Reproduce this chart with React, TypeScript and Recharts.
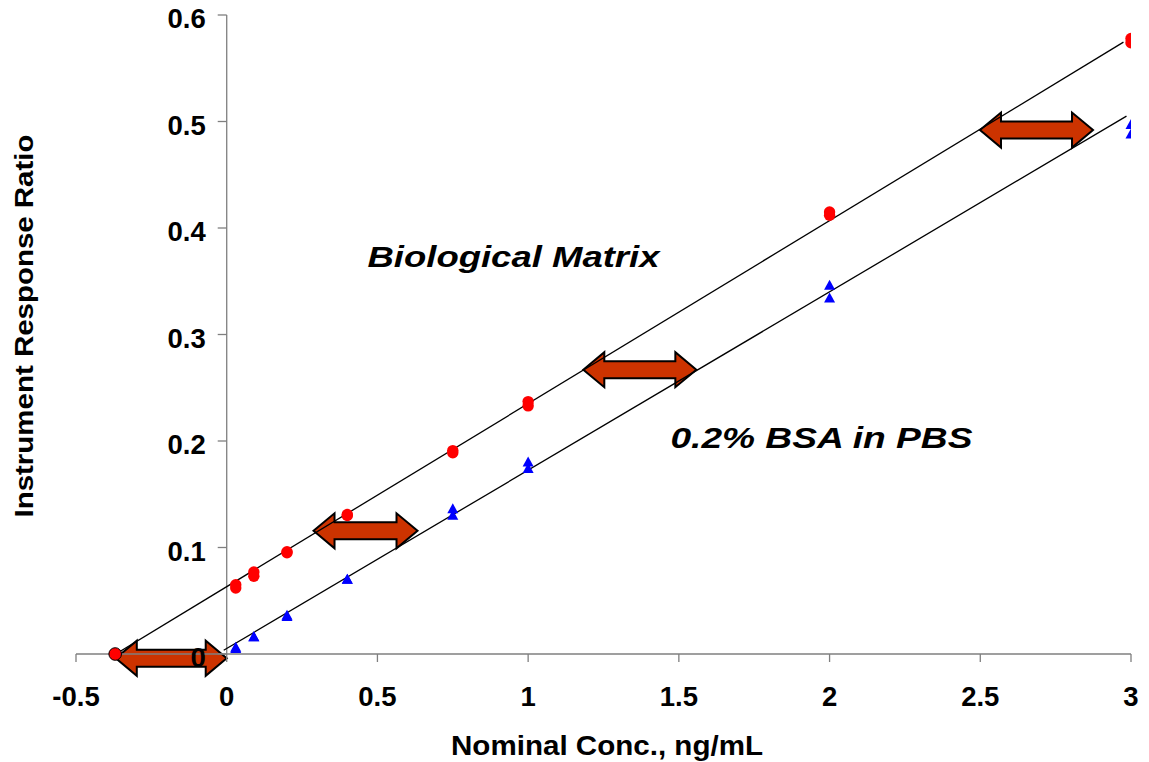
import React from 'react';
import { ScatterChart, Scatter, XAxis, YAxis, ReferenceLine, ReferenceDot } from 'recharts';

const FONT = '"Liberation Sans", Arial, Helvetica, sans-serif';

// Nominal concentrations (ng/mL)
const conc = [0.03, 0.09, 0.2, 0.4, 0.75, 1, 2, 3];
// Biological matrix replicates (red circles)
const bioRep1 = [0.062, 0.077, 0.095, 0.131, 0.191, 0.237, 0.415, 0.578];
const bioRep2 = [0.065, 0.073, 0.096, 0.130, 0.189, 0.233, 0.412, 0.574];
// 0.2% BSA in PBS replicates (blue triangles)
const bsaRep1 = [0.006, 0.016, 0.036, 0.070, 0.136, 0.180, 0.346, 0.497];
const bsaRep2 = [0.005, 0.016, 0.035, 0.070, 0.130, 0.174, 0.334, 0.488];
// extrapolated x-intercept of biological matrix
const bioIntercept = { x: -0.37, y: 0 };
// fitted regression lines (endpoints)
const bioFit = [{ x: -0.368, y: 0 }, { x: 2.975, y: 0.5745 }];
const bsaFit = [{ x: -0.01, y: 0.0035 }, { x: 2.985, y: 0.505 }];
// axis ticks
const xTicks = [-0.5, 0, 0.5, 1, 1.5, 2, 2.5, 3];
const yTicks = [0, 0.1, 0.2, 0.3, 0.4, 0.5, 0.6];
const yTickLabels = ['0', '0.1', '0.2', '0.3', '0.4', '0.5', '0.6'];
// shift arrows: [xStart, xEnd, y]
const arrows = [
  [-0.368, 0.0, -0.004],
  [0.288, 0.633, 0.1157],
  [1.183, 1.558, 0.267],
  [2.499, 2.874, 0.492],
];

const bioPoints = [
  ...conc.map((x, i) => ({ x, y: bioRep1[i] })),
  ...conc.map((x, i) => ({ x, y: bioRep2[i] })),
];
const bsaPoints = [
  ...conc.map((x, i) => ({ x, y: bsaRep1[i] })),
  ...conc.map((x, i) => ({ x, y: bsaRep2[i] })),
];

const RedDot = (p: any) => <circle cx={p.cx} cy={p.cy} r={5.7} fill="#ff0000" />;
const RedDotOutlined = (p: any) => (
  <circle cx={p.cx} cy={p.cy} r={6.3} fill="#ff0000" stroke="#000" strokeWidth={1} />
);
const BlueTri = (p: any) => (
  <polygon
    points={`${p.cx},${p.cy - 5.8} ${p.cx + 5.5},${p.cy + 4.2} ${p.cx - 5.5},${p.cy + 4.2}`}
    fill="#0000ff"
  />
);
const NoShape = () => <g />;

const DoubleArrow = (p: any) => {
  const y = (p.y1 + p.y2) / 2;
  const L = Math.min(p.x1, p.x2);
  const R = Math.max(p.x1, p.x2);
  const hl = 21, hh = 17.5, sh = 8.5;
  const pts = [
    [L, y], [L + hl, y - hh], [L + hl, y - sh], [R - hl, y - sh], [R - hl, y - hh],
    [R, y], [R - hl, y + hh], [R - hl, y + sh], [L + hl, y + sh], [L + hl, y + hh],
  ].map((q) => q.join(',')).join(' ');
  return <polygon points={pts} fill="#cc3300" stroke="#000" strokeWidth={2} strokeLinejoin="miter" />;
};

const makeYTick = (label: string) => (p: any) => (
  <g>
    <line x1={p.cx - 9} y1={p.cy} x2={p.cx} y2={p.cy} stroke="#7f7f7f" strokeWidth={1.3} />
    <text x={p.cx - 21} y={p.cy + 13} textAnchor="end" fontFamily={FONT} fontWeight="bold" fontSize={27.5} fill="#000">
      {label}
    </text>
  </g>
);

const makeNote = (label: string, len: number) => (p: any) => (
  <text
    x={p.cx}
    y={p.cy}
    fontFamily={FONT}
    fontWeight="bold"
    fontStyle="italic"
    fontSize={29}
    fill="#000"
    textLength={len}
    lengthAdjust="spacingAndGlyphs"
  >
    {label}
  </text>
);

export default function App() {
  return (
    <div style={{ position: 'absolute', left: 0, top: 0, width: 1149, height: 762, background: '#fff' }}>
      <ScatterChart width={1149} height={762} margin={{ top: 15, right: 18, bottom: 48, left: 76 }}>
        <XAxis
          type="number"
          dataKey="x"
          domain={[-0.5, 3]}
          ticks={xTicks}
          allowDataOverflow
          height={60}
          tickSize={8}
          tickMargin={24}
          stroke="#7f7f7f"
          strokeWidth={1.3}
          interval={0}
          tick={{ fill: '#000', fontSize: 27.5, fontWeight: 'bold', fontFamily: FONT }}
        />
        <YAxis type="number" dataKey="y" domain={[0, 0.6]} hide allowDataOverflow />
        <ReferenceLine x={0} stroke="#7f7f7f" strokeWidth={1.3} ifOverflow="visible" />
        <Scatter data={bioFit} shape={NoShape} line={{ stroke: '#000', strokeWidth: 1.3 }} isAnimationActive={false} />
        <Scatter data={bsaFit} shape={NoShape} line={{ stroke: '#000', strokeWidth: 1.3 }} isAnimationActive={false} />
        <Scatter data={bioPoints} shape={RedDot} isAnimationActive={false} />
        <Scatter data={bsaPoints} shape={BlueTri} isAnimationActive={false} />
        {arrows.map((a, i) => (
          <ReferenceLine
            key={'arr' + i}
            segment={[{ x: a[0], y: a[2] }, { x: a[1], y: a[2] }]}
            ifOverflow="visible"
            shape={DoubleArrow}
          />
        ))}
        <ReferenceDot x={bioIntercept.x} y={bioIntercept.y} ifOverflow="visible" shape={RedDotOutlined} />
        {yTicks.map((v, i) => (
          <ReferenceDot key={'yt' + i} x={0} y={v} ifOverflow="visible" shape={makeYTick(yTickLabels[i])} />
        ))}
        <ReferenceDot x={0.467} y={0.363} ifOverflow="visible" shape={makeNote('Biological Matrix', 292)} />
        <ReferenceDot x={1.472} y={0.193} ifOverflow="visible" shape={makeNote('0.2% BSA in PBS', 302)} />
      </ScatterChart>
      <svg width={1149} height={762} style={{ position: 'absolute', left: 0, top: 0, pointerEvents: 'none' }}>
        <text
          transform="translate(33, 326) rotate(-90)"
          textAnchor="middle"
          fontFamily={FONT}
          fontWeight="bold"
          fontSize={25}
          fill="#000"
          textLength={383}
          lengthAdjust="spacingAndGlyphs"
        >
          Instrument Response Ratio
        </text>
        <text x={607} y={755} textAnchor="middle" fontFamily={FONT} fontWeight="bold" fontSize={28} fill="#000" textLength={312} lengthAdjust="spacingAndGlyphs">
          Nominal Conc., ng/mL
        </text>
      </svg>
    </div>
  );
}
